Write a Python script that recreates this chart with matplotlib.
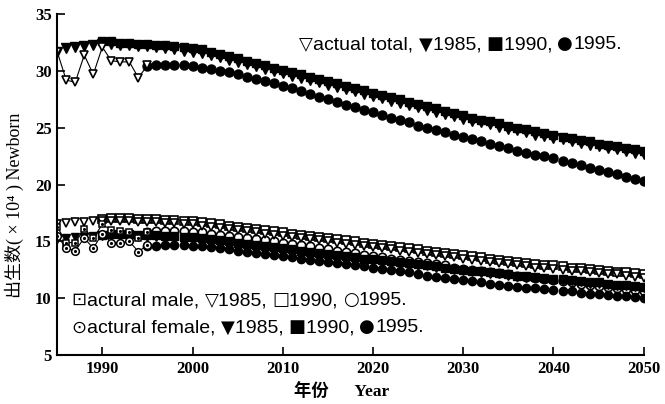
import numpy as np
import matplotlib.pyplot as plt
from matplotlib.offsetbox import TextArea, HPacker, AnchoredOffsetbox

# 出生数 (x10^4) — actual data and projections from 1985 / 1990 / 1995
actual_years = list(range(1985, 1996))
actual_total = [31.7, 29.2, 29.0, 31.4, 29.7, 32.1, 30.9, 30.8, 30.8, 29.4, 30.5]
actual_male = [16.3, 14.9, 14.9, 16.1, 15.3, 16.5, 16.0, 15.9, 15.8, 15.3, 15.8]
actual_female = [15.5, 14.4, 14.2, 15.3, 14.4, 15.7, 14.9, 14.9, 15.0, 14.1, 14.7]

years_85 = list(range(1985, 2051))
years_90 = list(range(1990, 2051))
years_95 = list(range(1995, 2051))

total_85 = [31.7, 32.0, 32.1, 32.2, 32.3, 32.4, 32.4, 32.3, 32.3, 32.2,
            32.2, 32.1, 32.0, 31.9, 31.8, 31.7, 31.6, 31.4, 31.2, 31.0,
            30.8, 30.6, 30.4, 30.2, 30.0, 29.8, 29.6, 29.4, 29.2, 29.0,
            28.8, 28.6, 28.4, 28.2, 28.0, 27.8, 27.6, 27.4, 27.2, 27.0,
            26.8, 26.6, 26.4, 26.2, 26.0, 25.8, 25.6, 25.5, 25.3, 25.1,
            24.9, 24.8, 24.6, 24.4, 24.3, 24.1, 24.0, 23.8, 23.7, 23.5,
            23.4, 23.2, 23.1, 23.0, 22.8, 22.7]
total_90 = [32.6, 32.6, 32.5, 32.5, 32.4, 32.4, 32.3, 32.3, 32.2, 32.1,
            32.0, 31.9, 31.7, 31.5, 31.3, 31.1, 30.9, 30.7, 30.5, 30.3,
            30.1, 29.9, 29.7, 29.5, 29.3, 29.1, 28.9, 28.7, 28.5, 28.3,
            28.1, 27.9, 27.7, 27.5, 27.3, 27.1, 26.9, 26.7, 26.5, 26.3,
            26.1, 25.9, 25.7, 25.6, 25.4, 25.2, 25.0, 24.9, 24.7, 24.5,
            24.4, 24.2, 24.1, 23.9, 23.8, 23.6, 23.5, 23.4, 23.2, 23.1,
            23.0]
total_95 = [30.4, 30.5, 30.5, 30.5, 30.5, 30.4, 30.3, 30.2, 30.0, 29.9,
            29.7, 29.5, 29.3, 29.1, 28.9, 28.7, 28.5, 28.2, 28.0, 27.7,
            27.5, 27.3, 27.0, 26.8, 26.6, 26.4, 26.1, 25.9, 25.7, 25.5,
            25.2, 25.0, 24.8, 24.6, 24.4, 24.2, 24.0, 23.8, 23.6, 23.4,
            23.2, 23.0, 22.8, 22.6, 22.5, 22.3, 22.1, 21.9, 21.7, 21.5,
            21.3, 21.1, 20.9, 20.7, 20.5, 20.3]

male_85 = [16.5, 16.6, 16.7, 16.7, 16.8, 16.8, 16.8, 16.8, 16.8, 16.7,
           16.7, 16.7, 16.6, 16.6, 16.5, 16.5, 16.4, 16.3, 16.2, 16.1,
           16.0, 15.9, 15.8, 15.7, 15.6, 15.5, 15.4, 15.3, 15.2, 15.1,
           15.0, 14.9, 14.8, 14.7, 14.6, 14.5, 14.4, 14.3, 14.2, 14.1,
           14.0, 13.9, 13.8, 13.7, 13.6, 13.5, 13.4, 13.3, 13.2, 13.1,
           13.0, 12.9, 12.8, 12.7, 12.7, 12.6, 12.5, 12.4, 12.4, 12.3,
           12.2, 12.1, 12.1, 12.0, 11.9, 11.8]
male_90 = [17.0, 17.1, 17.1, 17.1, 17.0, 17.0, 17.0, 16.9, 16.9, 16.8,
           16.8, 16.7, 16.6, 16.5, 16.4, 16.3, 16.2, 16.1, 16.0, 15.9,
           15.8, 15.7, 15.6, 15.5, 15.4, 15.3, 15.2, 15.1, 15.0, 14.9,
           14.8, 14.7, 14.6, 14.5, 14.4, 14.3, 14.2, 14.1, 14.0, 13.9,
           13.8, 13.7, 13.6, 13.5, 13.4, 13.3, 13.2, 13.1, 13.0, 12.95,
           12.9, 12.8, 12.7, 12.65, 12.6, 12.5, 12.4, 12.35, 12.3, 12.2,
           12.1]
male_95 = [15.8, 15.9, 15.9, 15.9, 15.9, 15.8, 15.8, 15.7, 15.6, 15.5,
           15.4, 15.3, 15.2, 15.1, 15.0, 14.9, 14.8, 14.7, 14.6, 14.4,
           14.3, 14.2, 14.1, 14.0, 13.8, 13.7, 13.6, 13.5, 13.4, 13.3,
           13.2, 13.1, 13.0, 12.9, 12.7, 12.6, 12.5, 12.4, 12.3, 12.2,
           12.1, 12.0, 11.9, 11.8, 11.7, 11.6, 11.5, 11.4, 11.3, 11.2,
           11.1, 11.0, 10.9, 10.8, 10.7, 10.6]

female_85 = [15.2, 15.3, 15.4, 15.4, 15.5, 15.5, 15.5, 15.5, 15.5, 15.4,
             15.4, 15.4, 15.3, 15.3, 15.2, 15.2, 15.1, 15.0, 14.9, 14.8,
             14.7, 14.6, 14.5, 14.4, 14.4, 14.3, 14.2, 14.1, 14.0, 13.9,
             13.8, 13.7, 13.6, 13.5, 13.4, 13.3, 13.2, 13.1, 13.0, 12.9,
             12.8, 12.8, 12.7, 12.6, 12.5, 12.4, 12.3, 12.2, 12.1, 12.1,
             12.0, 11.9, 11.8, 11.8, 11.7, 11.6, 11.5, 11.5, 11.4, 11.3,
             11.3, 11.2, 11.1, 11.1, 11.0, 10.9]
female_90 = [15.6, 15.7, 15.7, 15.7, 15.6, 15.6, 15.6, 15.5, 15.5, 15.4,
             15.4, 15.3, 15.2, 15.1, 15.0, 14.9, 14.8, 14.7, 14.6, 14.5,
             14.4, 14.3, 14.2, 14.1, 14.0, 13.9, 13.8, 13.7, 13.6, 13.5,
             13.5, 13.4, 13.3, 13.2, 13.1, 13.0, 12.9, 12.8, 12.7, 12.6,
             12.5, 12.4, 12.4, 12.3, 12.2, 12.1, 12.0, 12.0, 11.9, 11.8,
             11.7, 11.7, 11.6, 11.5, 11.4, 11.4, 11.3, 11.2, 11.2, 11.1,
             11.0]
female_95 = [14.6, 14.6, 14.7, 14.7, 14.7, 14.6, 14.6, 14.5, 14.4, 14.3,
             14.2, 14.1, 14.0, 13.9, 13.8, 13.7, 13.6, 13.5, 13.4, 13.3,
             13.2, 13.1, 13.0, 12.9, 12.8, 12.7, 12.6, 12.5, 12.4, 12.3,
             12.1, 12.0, 11.9, 11.8, 11.7, 11.6, 11.5, 11.4, 11.3, 11.2,
             11.1, 11.0, 10.9, 10.9, 10.8, 10.7, 10.6, 10.6, 10.5, 10.4,
             10.4, 10.3, 10.2, 10.2, 10.1, 10.0]

xticks = [1990, 2000, 2010, 2020, 2030, 2040, 2050]
yticks = [5, 10, 15, 20, 25, 30, 35]

serif = ['Liberation Serif', 'DejaVu Serif', 'Noto Sans CJK SC']

fig = plt.figure(figsize=(6.65, 4.04), dpi=100)
ax = fig.add_axes([0.086, 0.121, 0.882, 0.844])

k = 'black'
big = 6.5
small = 6

# projections, markers only
ax.plot(years_95, male_95, 'o', ms=small, mfc='white', mec=k, mew=1.2)
ax.plot(years_90, male_90, 's', ms=small - 0.5, mfc='white', mec=k, mew=1.2)
ax.plot(years_85, male_85, 'v', ms=small, mfc='white', mec=k, mew=1.2)
ax.plot(years_95, female_95, 'o', ms=small, color=k)
ax.plot(years_90, female_90, 's', ms=small - 0.5, color=k)
ax.plot(years_85, female_85, 'v', ms=small, color=k)

ax.plot(years_95, total_95, 'o', ms=big, color=k)
ax.plot(years_90, total_90, 's', ms=big - 0.5, color=k)
ax.plot(years_85, total_85, 'v', ms=big, color=k)

# actual data with thin lines
ax.plot(actual_years, actual_total, '-v', lw=0.8, color=k, ms=5.5,
        mfc='white', mec=k, mew=1.2)
ax.plot(actual_years, actual_male, '-s', lw=0.8, color=k, ms=5,
        mfc='white', mec=k, mew=1.1)
ax.plot(actual_years, actual_male, '.', ms=2.5, color=k)
ax.plot(actual_years, actual_female, '-o', lw=0.8, color=k, ms=5.5,
        mfc='white', mec=k, mew=1.1)
ax.plot(actual_years, actual_female, '.', ms=2.5, color=k)

ax.set_xlim(1985, 2050)
ax.set_ylim(5, 35)
ax.set_xticks(xticks)
ax.set_yticks(yticks)
for s in ['top', 'right']:
    ax.spines[s].set_visible(False)
for s in ['left', 'bottom']:
    ax.spines[s].set_linewidth(1.5)
ax.tick_params(direction='in', length=6, width=1.2, labelsize=12, pad=4)
for lab in ax.get_xticklabels() + ax.get_yticklabels():
    lab.set_family(serif)
    lab.set_fontweight('bold')

ax.set_xlabel('年份      Year', family=serif, fontsize=12.5, fontweight='bold')
ax.xaxis.set_label_coords(0.485, -0.085)
ax.set_ylabel('出生数( × 10⁴ ) Newborn', family=serif, fontsize=13)
ax.yaxis.set_label_coords(-0.057, 0.44)


def legend_line(parts, x, y):
    # parts: (text, is_symbol)
    boxes = []
    for txt, sym in parts:
        if sym:
            props = dict(family='DejaVu Sans', fontsize=13, color=k)
        else:
            props = dict(family='Liberation Sans', fontsize=14, color=k)
        boxes.append(TextArea(txt, textprops=props))
    row = HPacker(children=boxes, align='baseline', pad=0, sep=0)
    anc = AnchoredOffsetbox(loc='lower left', child=row, pad=0, borderpad=0,
                            frameon=False, bbox_to_anchor=(x, y),
                            bbox_transform=ax.transAxes)
    ax.add_artist(anc)


legend_line([('▽', True), ('actual total, ', False), ('▼', True),
             ('1985, ', False), ('■', True), ('1990, ', False),
             ('●', True), ('1995.', False)], 0.413, 0.885)
legend_line([('⊡', True), ('actural male, ', False), ('▽', True),
             ('1985, ', False), ('□', True), ('1990, ', False),
             ('○', True), ('1995.', False)], 0.025, 0.135)
legend_line([('⊙', True), ('actural female, ', False), ('▼', True),
             ('1985, ', False), ('■', True), ('1990, ', False),
             ('●', True), ('1995.', False)], 0.025, 0.055)

fig.savefig('out.png', dpi=100)
